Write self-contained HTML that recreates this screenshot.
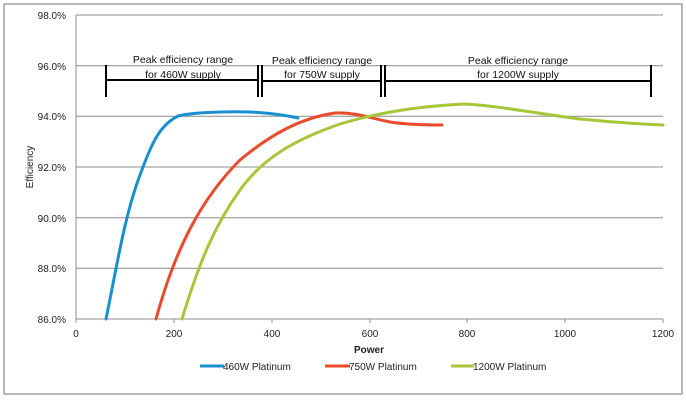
<!DOCTYPE html>
<html><head><meta charset="utf-8"><style>body{margin:0;background:#fff}</style></head><body>
<svg width="686" height="400" xmlns="http://www.w3.org/2000/svg" font-family="Liberation Sans, sans-serif">
<rect x="4" y="4" width="678" height="390" fill="#fff" stroke="#888" stroke-width="1.2"/>
<g stroke="#8c8c8c" stroke-width="1">
<line x1="76" y1="15" x2="663" y2="15"/><line x1="76" y1="65.7" x2="663" y2="65.7"/>
<line x1="76" y1="116.3" x2="663" y2="116.3"/><line x1="76" y1="167" x2="663" y2="167"/>
<line x1="76" y1="217.7" x2="663" y2="217.7"/><line x1="76" y1="268.3" x2="663" y2="268.3"/>
<line x1="76" y1="319" x2="663" y2="319"/><line x1="76" y1="15" x2="76" y2="319"/>
<line x1="76" y1="319" x2="76" y2="323"/><line x1="174" y1="319" x2="174" y2="323"/><line x1="272" y1="319" x2="272" y2="323"/><line x1="370" y1="319" x2="370" y2="323"/><line x1="467" y1="319" x2="467" y2="323"/><line x1="565" y1="319" x2="565" y2="323"/><line x1="663" y1="319" x2="663" y2="323"/>
</g>
<g font-size="10" fill="#222" text-anchor="end">
<text x="66" y="19">98.0%</text><text x="66" y="70">96.0%</text><text x="66" y="120">94.0%</text><text x="66" y="171">92.0%</text><text x="66" y="222">90.0%</text><text x="66" y="272">88.0%</text><text x="66" y="323">86.0%</text>
</g>
<g font-size="10" fill="#222" text-anchor="middle">
<text x="76" y="337">0</text><text x="174" y="337">200</text><text x="272" y="337">400</text><text x="370" y="337">600</text><text x="467" y="337">800</text><text x="565" y="337">1000</text><text x="663" y="337">1200</text>
<text x="369" y="353" font-weight="bold">Power</text>
</g>
<text transform="translate(33,167) rotate(-90)" font-size="10" text-anchor="middle" fill="#222">Efficiency</text>
<g fill="none" stroke-width="3" stroke-linejoin="round" stroke-linecap="round">
<path stroke="#1a8fd0" d="M106,319 C118,260 125,215 140,175 C152,142 160,125 178,116 C190,113 220,111 250,112 C270,113 285,115 298,118"/>
<path stroke="#e84c2b" d="M156,319 C175,250 200,200 240,160 C270,135 300,118 335,113 C355,112 370,118 390,122 C410,125 430,125 442,125"/>
<path stroke="#a8c63a" d="M182,319 C200,260 215,225 240,190 C265,155 300,138 340,124 C380,112 420,106 465,104 C500,106 540,114 580,119 C610,122 640,124 663,125"/>
</g>
<g stroke="#000" stroke-width="2">
<line x1="106" y1="65" x2="106" y2="97"/><line x1="106" y1="80" x2="258" y2="80"/><line x1="258" y1="65" x2="258" y2="97"/>
<line x1="262" y1="65" x2="262" y2="97"/><line x1="262" y1="81" x2="381" y2="81"/><line x1="381" y1="65" x2="381" y2="97"/>
<line x1="385" y1="65" x2="385" y2="97"/><line x1="385" y1="81" x2="651" y2="81"/><line x1="651" y1="65" x2="651" y2="97"/>
</g>
<g font-size="10.5" fill="#111" text-anchor="middle">
<text x="183" y="63">Peak efficiency range</text><text x="183" y="78">for 460W supply</text>
<text x="322" y="64">Peak efficiency range</text><text x="322" y="78">for 750W supply</text>
<text x="518" y="64">Peak efficiency range</text><text x="518" y="78">for 1200W supply</text>
</g>
<g font-size="10" fill="#222">
<line x1="200" y1="366" x2="224" y2="366" stroke="#1a8fd0" stroke-width="3"/><text x="223" y="370">460W Platinum</text>
<line x1="325" y1="366" x2="350" y2="366" stroke="#e84c2b" stroke-width="3"/><text x="349" y="370">750W Platinum</text>
<line x1="451" y1="366" x2="474" y2="366" stroke="#a8c63a" stroke-width="3"/><text x="473" y="370">1200W Platinum</text>
</g>
</svg>
</body></html>
